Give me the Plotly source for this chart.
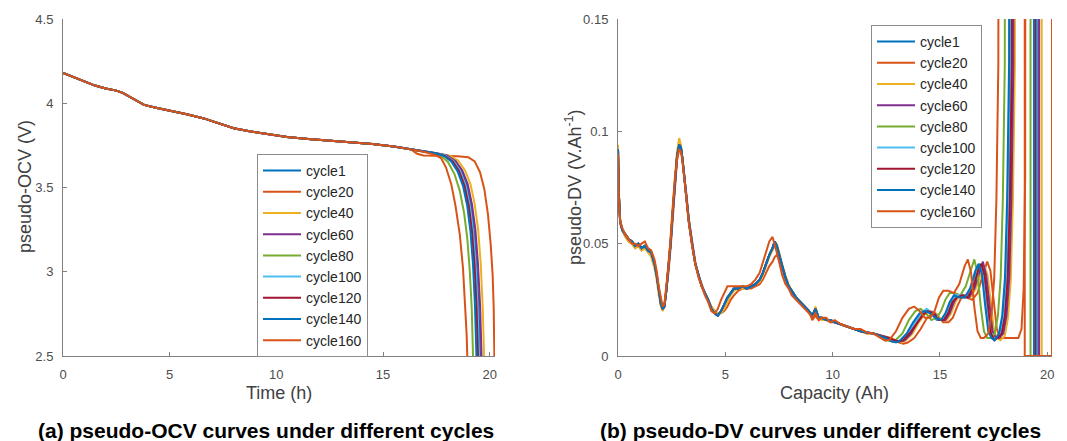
import plotly.graph_objects as go

# ---------------- data ----------------
CYCLES = ["cycle1", "cycle20", "cycle40", "cycle60", "cycle80",
          "cycle100", "cycle120", "cycle140", "cycle160"]
COLORS = ["#0072BD", "#D95319", "#EDB120", "#7E2F8E", "#77AC30",
          "#4DBEEE", "#A2142F", "#0072BD", "#D95319"]

# pseudo-OCV: shared body (all cycles overlap here)
OCV_BODY_T = [0, 0.5, 1.0, 1.5, 2.0, 2.5, 2.8, 3.1, 3.4, 3.8, 4.3, 5.0, 5.8, 6.6,
              7.3, 8.0, 8.8, 9.6, 10.5, 11.5, 12.5, 13.5, 14.5, 15.5, 16.3]
OCV_BODY_V = [4.18, 4.155, 4.13, 4.105, 4.088, 4.075, 4.062, 4.04, 4.015, 3.99,
              3.975, 3.958, 3.935, 3.91, 3.88, 3.852, 3.832, 3.815, 3.80, 3.788,
              3.778, 3.769, 3.758, 3.744, 3.728]

# pseudo-OCV: end of discharge, per cycle
OCV_TAIL_T = {
    "cycle1":   [16.9, 17.5, 17.95, 18.35, 18.65, 18.9, 19.1, 19.25, 19.37, 19.47, 19.55],
    "cycle20":  [16.6, 16.9, 17.5, 18.0, 18.5, 19.0, 19.3, 19.55, 19.75, 19.92, 20.05, 20.14, 20.19, 20.22],
    "cycle40":  [16.9, 17.5, 18.1, 18.52, 18.85, 19.1, 19.3, 19.46, 19.58, 19.67, 19.74],
    "cycle60":  [16.9, 17.5, 18.0, 18.42, 18.72, 18.97, 19.17, 19.33, 19.45, 19.55, 19.62],
    "cycle80":  [16.9, 17.5, 17.75, 18.05, 18.35, 18.6, 18.8, 18.95, 19.07, 19.16, 19.22],
    "cycle100": [16.9, 17.5, 17.92, 18.32, 18.62, 18.87, 19.07, 19.22, 19.34, 19.43, 19.5],
    "cycle120": [16.9, 17.5, 17.9, 18.27, 18.57, 18.82, 19.02, 19.17, 19.29, 19.38, 19.45],
    "cycle140": [16.9, 17.5, 17.85, 18.2, 18.5, 18.75, 18.95, 19.1, 19.22, 19.31, 19.38],
    "cycle160": [16.9, 17.4, 17.72, 17.95, 18.2, 18.4, 18.6, 18.75, 18.85, 18.92, 18.95],
}
OCV_TAIL_V = {
    "cycle1":   [3.716, 3.703, 3.69, 3.66, 3.61, 3.53, 3.41, 3.26, 3.06, 2.82, 2.5],
    "cycle20":  [3.70, 3.69, 3.688, 3.687, 3.686, 3.68, 3.655, 3.59, 3.49, 3.34, 3.16, 2.98, 2.78, 2.5],
    "cycle40":  [3.718, 3.705, 3.69, 3.66, 3.60, 3.52, 3.40, 3.25, 3.05, 2.80, 2.5],
    "cycle60":  [3.717, 3.704, 3.69, 3.655, 3.60, 3.52, 3.40, 3.25, 3.05, 2.80, 2.5],
    "cycle80":  [3.716, 3.70, 3.685, 3.65, 3.58, 3.48, 3.35, 3.20, 3.00, 2.78, 2.5],
    "cycle100": [3.716, 3.703, 3.69, 3.655, 3.595, 3.51, 3.39, 3.24, 3.04, 2.80, 2.5],
    "cycle120": [3.716, 3.702, 3.688, 3.655, 3.595, 3.51, 3.39, 3.24, 3.04, 2.80, 2.5],
    "cycle140": [3.716, 3.702, 3.688, 3.655, 3.595, 3.51, 3.39, 3.24, 3.04, 2.80, 2.5],
    "cycle160": [3.712, 3.695, 3.675, 3.62, 3.52, 3.39, 3.22, 3.02, 2.80, 2.63, 2.5],
}

# pseudo-DV: first part (0 - 11.9 Ah), shared capacity grid
DV_EARLY_C = [0, 0.04, 0.1, 0.2, 0.35, 0.5, 0.65, 0.8, 0.95, 1.1, 1.25, 1.4, 1.55, 1.7,
              1.8, 1.9, 2.0, 2.08, 2.16, 2.25, 2.35, 2.45, 2.55, 2.65, 2.75, 2.85, 2.93,
              3.0, 3.1, 3.2, 3.3, 3.45, 3.6, 3.75, 3.9, 4.05, 4.2, 4.35, 4.5, 4.65, 4.8,
              4.95, 5.1, 5.25, 5.4, 5.6, 5.8, 6.0, 6.2, 6.4, 6.6, 6.75, 6.9, 7.05, 7.2,
              7.3, 7.4, 7.5, 7.65, 7.8, 7.95, 8.1, 8.3, 8.5, 8.7, 8.9, 9.05, 9.2, 9.35,
              9.5, 9.7, 9.9, 10.1, 10.4, 10.7, 11.0, 11.3, 11.6, 11.9]
DV_EARLY_MAIN = [0.092, 0.072, 0.060, 0.056, 0.054, 0.052, 0.051, 0.049, 0.050, 0.048,
                 0.049, 0.047, 0.046, 0.041, 0.036, 0.029, 0.023, 0.021, 0.022, 0.029,
                 0.038, 0.050, 0.064, 0.078, 0.089, 0.094, 0.093, 0.088, 0.079, 0.070,
                 0.060, 0.050, 0.041, 0.036, 0.031, 0.028, 0.025, 0.021, 0.019, 0.018,
                 0.020, 0.023, 0.026, 0.028, 0.030, 0.030, 0.031, 0.030, 0.031, 0.032,
                 0.034, 0.037, 0.041, 0.045, 0.048, 0.051, 0.049, 0.045, 0.040, 0.035,
                 0.031, 0.029, 0.026, 0.024, 0.022, 0.020, 0.018, 0.021, 0.017, 0.017,
                 0.016, 0.016, 0.015, 0.014, 0.013, 0.012, 0.011, 0.0105, 0.010]
DV_EARLY_C40 = [0.094, 0.073, 0.061, 0.056, 0.053, 0.051, 0.050, 0.048, 0.049, 0.047,
                0.048, 0.046, 0.044, 0.039, 0.034, 0.027, 0.022, 0.020, 0.022, 0.030,
                0.040, 0.053, 0.067, 0.081, 0.091, 0.097, 0.094, 0.088, 0.079, 0.070,
                0.060, 0.050, 0.041, 0.036, 0.031, 0.028, 0.025, 0.022, 0.020, 0.019,
                0.019, 0.021, 0.024, 0.027, 0.029, 0.030, 0.030, 0.030, 0.031, 0.032,
                0.033, 0.036, 0.040, 0.044, 0.047, 0.049, 0.050, 0.046, 0.041, 0.036,
                0.032, 0.029, 0.026, 0.024, 0.022, 0.020, 0.018, 0.022, 0.017, 0.016,
                0.016, 0.016, 0.015, 0.014, 0.013, 0.012, 0.011, 0.010, 0.010]
DV_EARLY_C20 = [0.090, 0.070, 0.059, 0.056, 0.053, 0.051, 0.050, 0.048, 0.049, 0.047,
                0.048, 0.047, 0.046, 0.042, 0.037, 0.030, 0.024, 0.021, 0.022, 0.028,
                0.037, 0.048, 0.062, 0.076, 0.087, 0.092, 0.092, 0.088, 0.080, 0.071,
                0.061, 0.051, 0.042, 0.036, 0.032, 0.028, 0.025, 0.022, 0.020, 0.019,
                0.019, 0.020, 0.022, 0.025, 0.027, 0.029, 0.030, 0.030, 0.030, 0.031,
                0.032, 0.034, 0.037, 0.040, 0.042, 0.044, 0.045, 0.043, 0.039, 0.034,
                0.031, 0.028, 0.026, 0.024, 0.022, 0.020, 0.016, 0.018, 0.016, 0.017,
                0.016, 0.015, 0.015, 0.014, 0.013, 0.012, 0.011, 0.010, 0.010]
DV_EARLY_C160 = [0.090, 0.070, 0.060, 0.057, 0.054, 0.052, 0.050, 0.050, 0.049, 0.050,
                 0.051, 0.048, 0.047, 0.043, 0.038, 0.031, 0.025, 0.022, 0.023, 0.030,
                 0.040, 0.052, 0.066, 0.079, 0.088, 0.092, 0.091, 0.087, 0.078, 0.069,
                 0.059, 0.049, 0.041, 0.035, 0.031, 0.027, 0.024, 0.020, 0.019, 0.021,
                 0.025, 0.028, 0.031, 0.031, 0.031, 0.031, 0.031, 0.031, 0.032, 0.034,
                 0.037, 0.042, 0.047, 0.051, 0.053, 0.050, 0.046, 0.042, 0.036, 0.032,
                 0.030, 0.027, 0.025, 0.023, 0.021, 0.019, 0.017, 0.019, 0.016, 0.017,
                 0.017, 0.015, 0.016, 0.014, 0.013, 0.012, 0.012, 0.0105, 0.010]
DV_EARLY_BY_CYCLE = {"cycle1": DV_EARLY_MAIN, "cycle20": DV_EARLY_C20, "cycle40": DV_EARLY_C40,
                     "cycle60": DV_EARLY_MAIN, "cycle80": DV_EARLY_MAIN, "cycle100": DV_EARLY_MAIN,
                     "cycle120": DV_EARLY_MAIN, "cycle140": DV_EARLY_MAIN, "cycle160": DV_EARLY_C160}

# pseudo-DV: late part per cycle (value 1.0 = beyond the 0.15 axis limit)
DV_TAIL_C = {
    "cycle1":   [12.5, 12.8, 13.0, 13.2, 13.5, 13.8, 14.1, 14.35, 14.6, 14.85, 15.1, 15.3, 15.5, 15.7, 15.95,
                 16.2, 16.45, 16.7, 16.85, 17.0, 17.15, 17.3, 17.45, 17.6, 17.8, 17.95, 18.08, 18.18, 18.27, 18.35,
                 19.55, 19.55, 20.25],
    "cycle20":  [12.8, 13.1, 13.3, 13.5, 13.8, 14.1, 14.4, 14.65, 14.9, 15.15, 15.4, 15.6, 15.8, 16.0, 16.25,
                 16.5, 16.75, 17.0, 17.2, 17.35, 17.5, 17.65, 17.8, 18.1, 18.4, 18.65, 18.8, 18.9, 18.97, 19.03,
                 20.22, 20.22, 20.25],
    "cycle40":  [12.72, 13.02, 13.22, 13.42, 13.72, 14.02, 14.32, 14.57, 14.82, 15.07, 15.32, 15.52, 15.72, 15.92, 16.17,
                 16.42, 16.67, 16.92, 17.07, 17.22, 17.37, 17.52, 17.67, 17.82, 18.02, 18.17, 18.3, 18.4, 18.49, 18.57,
                 19.74, 19.74, 20.25],
    "cycle60":  [12.65, 12.95, 13.15, 13.35, 13.65, 13.95, 14.25, 14.5, 14.75, 15.0, 15.25, 15.45, 15.65, 15.85, 16.1,
                 16.35, 16.6, 16.85, 17.0, 17.15, 17.3, 17.45, 17.6, 17.75, 17.95, 18.1, 18.23, 18.33, 18.42, 18.5,
                 19.62, 19.62, 20.25],
    "cycle80":  [12.25, 12.55, 12.75, 12.95, 13.25, 13.55, 13.85, 14.1, 14.35, 14.6, 14.85, 15.05, 15.25, 15.45, 15.7,
                 15.95, 16.2, 16.45, 16.6, 16.75, 16.9, 17.05, 17.2, 17.35, 17.55, 17.7, 17.83, 17.93, 18.02, 18.1,
                 19.22, 19.22, 20.25],
    "cycle100": [12.53, 12.83, 13.03, 13.23, 13.53, 13.83, 14.13, 14.38, 14.63, 14.88, 15.13, 15.33, 15.53, 15.73, 15.98,
                 16.23, 16.48, 16.73, 16.88, 17.03, 17.18, 17.33, 17.48, 17.63, 17.83, 17.98, 18.11, 18.21, 18.3, 18.38,
                 19.5, 19.5, 20.25],
    "cycle120": [12.58, 12.88, 13.08, 13.28, 13.58, 13.88, 14.18, 14.43, 14.68, 14.93, 15.18, 15.38, 15.58, 15.78, 16.03,
                 16.28, 16.53, 16.78, 16.93, 17.08, 17.23, 17.38, 17.53, 17.68, 17.88, 18.03, 18.16, 18.26, 18.35, 18.43,
                 19.45, 19.45, 20.25],
    "cycle140": [12.45, 12.75, 12.95, 13.15, 13.45, 13.75, 14.05, 14.3, 14.55, 14.8, 15.05, 15.25, 15.45, 15.65, 15.9,
                 16.15, 16.4, 16.65, 16.8, 16.95, 17.1, 17.25, 17.4, 17.55, 17.75, 17.9, 18.03, 18.13, 18.22, 18.3,
                 19.38, 19.38, 20.25],
    "cycle160": [12.0, 12.25, 12.45, 12.65, 12.95, 13.25, 13.55, 13.8, 14.05, 14.3, 14.55, 14.75, 14.95, 15.15, 15.4,
                 15.65, 15.9, 16.15, 16.3, 16.45, 16.6, 16.75, 16.9, 17.05, 17.25, 17.4, 17.53, 17.63, 17.72, 17.8,
                 18.95, 18.95, 20.25],
}
DV_TAIL_V = {
    "cycle1":   [0.008, 0.0065, 0.0065, 0.007, 0.010, 0.015, 0.019, 0.020, 0.019, 0.016, 0.016, 0.019, 0.024, 0.027, 0.027,
                 0.026, 0.030, 0.038, 0.041, 0.036, 0.022, 0.011, 0.008, 0.008, 0.010, 0.018, 0.035, 0.07, 0.13, 1.0,
                 1.0, 0, 0],
    "cycle20":  [0.0075, 0.006, 0.0055, 0.006, 0.008, 0.012, 0.017, 0.019, 0.018, 0.015, 0.015, 0.017, 0.022, 0.026, 0.026,
                 0.025, 0.028, 0.036, 0.042, 0.038, 0.024, 0.012, 0.008, 0.008, 0.008, 0.008, 0.012, 0.03, 0.08, 1.0,
                 1.0, 0, 0],
    "cycle40":  [0.008, 0.0065, 0.006, 0.007, 0.010, 0.015, 0.019, 0.020, 0.019, 0.016, 0.016, 0.019, 0.024, 0.027, 0.027,
                 0.026, 0.030, 0.037, 0.040, 0.036, 0.022, 0.011, 0.008, 0.007, 0.009, 0.017, 0.034, 0.07, 0.13, 1.0,
                 1.0, 0, 0],
    "cycle60":  [0.008, 0.0065, 0.0065, 0.007, 0.010, 0.015, 0.019, 0.020, 0.019, 0.016, 0.016, 0.019, 0.024, 0.027, 0.027,
                 0.026, 0.030, 0.038, 0.042, 0.036, 0.022, 0.011, 0.008, 0.008, 0.010, 0.018, 0.035, 0.07, 0.13, 1.0,
                 1.0, 0, 0],
    "cycle80":  [0.0085, 0.007, 0.0065, 0.0072, 0.010, 0.016, 0.020, 0.021, 0.019, 0.016, 0.017, 0.020, 0.025, 0.028, 0.028,
                 0.027, 0.031, 0.039, 0.043, 0.037, 0.022, 0.011, 0.008, 0.008, 0.010, 0.018, 0.035, 0.07, 0.13, 1.0,
                 1.0, 0, 0],
    "cycle100": [0.008, 0.0065, 0.0065, 0.007, 0.010, 0.015, 0.019, 0.021, 0.019, 0.016, 0.016, 0.019, 0.024, 0.027, 0.027,
                 0.026, 0.030, 0.037, 0.040, 0.035, 0.022, 0.011, 0.008, 0.008, 0.010, 0.018, 0.035, 0.07, 0.13, 1.0,
                 1.0, 0, 0],
    "cycle120": [0.008, 0.007, 0.0065, 0.007, 0.010, 0.014, 0.018, 0.020, 0.019, 0.016, 0.016, 0.019, 0.024, 0.026, 0.027,
                 0.026, 0.030, 0.038, 0.041, 0.036, 0.022, 0.010, 0.007, 0.008, 0.010, 0.018, 0.035, 0.07, 0.13, 1.0,
                 1.0, 0, 0],
    "cycle140": [0.008, 0.0065, 0.006, 0.007, 0.010, 0.015, 0.019, 0.020, 0.019, 0.017, 0.016, 0.019, 0.024, 0.027, 0.026,
                 0.026, 0.030, 0.038, 0.041, 0.037, 0.023, 0.011, 0.008, 0.007, 0.010, 0.018, 0.035, 0.07, 0.13, 1.0,
                 1.0, 0, 0],
    "cycle160": [0.0095, 0.008, 0.0068, 0.0072, 0.011, 0.017, 0.021, 0.022, 0.020, 0.017, 0.017, 0.020, 0.026, 0.029, 0.029,
                 0.028, 0.032, 0.040, 0.043, 0.037, 0.022, 0.011, 0.008, 0.008, 0.010, 0.018, 0.035, 0.07, 0.13, 1.0,
                 1.0, 0, 0],
}

OCV_X_TICKS = [0, 5, 10, 15, 20]
OCV_Y_TICKS = [2.5, 3, 3.5, 4, 4.5]
OCV_Y_LABELS = ["2.5", "3", "3.5", "4", "4.5"]
DV_X_TICKS = [0, 5, 10, 15, 20]
DV_Y_TICKS = [0, 0.05, 0.1, 0.15]
DV_Y_LABELS = ["0", "0.05", "0.1", "0.15"]

# ---------------- figure ----------------
FONT = "Liberation Sans, Arial, sans-serif"
AX_COL = "#808080"
TICK_COL = "#4d4d4d"
OFF = 8                      # page body margin of the html page
W, H = 1067 - OFF, 441 - OFF


def px(x):
    return (x - OFF) / W


def py(y):
    return 1 - (y - OFF) / H


Y_TOP, Y_BOT = 19, 356

fig = go.Figure()

for i, cyc in enumerate(CYCLES):
    fig.add_trace(go.Scatter(
        x=OCV_BODY_T + OCV_TAIL_T[cyc], y=OCV_BODY_V + OCV_TAIL_V[cyc],
        mode="lines", name=cyc, line=dict(color=COLORS[i], width=2),
        xaxis="x", yaxis="y", legend="legend"))

for i, cyc in enumerate(CYCLES):
    fig.add_trace(go.Scatter(
        x=DV_EARLY_C + DV_TAIL_C[cyc], y=DV_EARLY_BY_CYCLE[cyc] + DV_TAIL_V[cyc],
        mode="lines", name=cyc, line=dict(color=COLORS[i], width=2),
        xaxis="x2", yaxis="y2", legend="legend2"))

axis_common = dict(showline=True, linecolor=AX_COL, linewidth=1, ticks="inside",
                   ticklen=4, tickcolor=AX_COL, showgrid=False, zeroline=False,
                   mirror=False, automargin=False, ticklabelstandoff=6,
                   tickfont=dict(family=FONT, size=13, color=TICK_COL))
title_font = dict(family=FONT, size=18, color="#404040")

legend_common = dict(bgcolor="white", bordercolor="#8c8c8c", borderwidth=1,
                     font=dict(family=FONT, size=14, color="#262626"),
                     xanchor="left", yanchor="top", tracegroupgap=0,
                     itemwidth=38)

fig.update_layout(
    width=W, height=H,
    margin=dict(l=0, r=0, t=0, b=0, autoexpand=False),
    paper_bgcolor="white", plot_bgcolor="white",
    xaxis=dict(domain=[px(63), px(495)], range=[0, 20.25], tickvals=OCV_X_TICKS,
               anchor="y", **axis_common),
    yaxis=dict(domain=[py(Y_BOT), py(Y_TOP)], range=[2.5, 4.5], tickvals=OCV_Y_TICKS,
               ticktext=OCV_Y_LABELS, anchor="x", **axis_common),
    xaxis2=dict(domain=[px(618), px(1052)], range=[0, 20.22], tickvals=DV_X_TICKS,
                anchor="y2", **axis_common),
    yaxis2=dict(domain=[py(Y_BOT), py(Y_TOP)], range=[0, 0.15], tickvals=DV_Y_TICKS,
                ticktext=DV_Y_LABELS, anchor="x2", **axis_common),
    legend=dict(x=px(257), y=py(154), **legend_common),
    legend2=dict(x=px(871), y=py(25), **legend_common),
    annotations=[
        dict(text="Time (h)", x=px(279), y=py(393), xref="paper", yref="paper",
             showarrow=False, xanchor="center", yanchor="middle", font=title_font),
        dict(text="pseudo-OCV (V)", x=px(25), y=py(187), xref="paper", yref="paper",
             showarrow=False, xanchor="center", yanchor="middle", textangle=-90, font=title_font),
        dict(text="Capacity (Ah)", x=px(835), y=py(393), xref="paper", yref="paper",
             showarrow=False, xanchor="center", yanchor="middle", font=title_font),
        dict(text="pseudo-DV (V.Ah<sup>-1</sup>)", x=px(573), y=py(187), xref="paper", yref="paper",
             showarrow=False, xanchor="center", yanchor="middle", textangle=-90, font=title_font),
        dict(text="<b>(a) pseudo-OCV curves under different cycles</b>", x=px(266), y=py(430),
             xref="paper", yref="paper", showarrow=False, xanchor="center", yanchor="middle",
             font=dict(family=FONT, size=21, color="black")),
        dict(text="<b>(b) pseudo-DV curves under different cycles</b>", x=px(820), y=py(430),
             xref="paper", yref="paper", showarrow=False, xanchor="center", yanchor="middle",
             font=dict(family=FONT, size=21, color="black")),
    ],
    showlegend=True,
)

fig.write_html("out.html")
